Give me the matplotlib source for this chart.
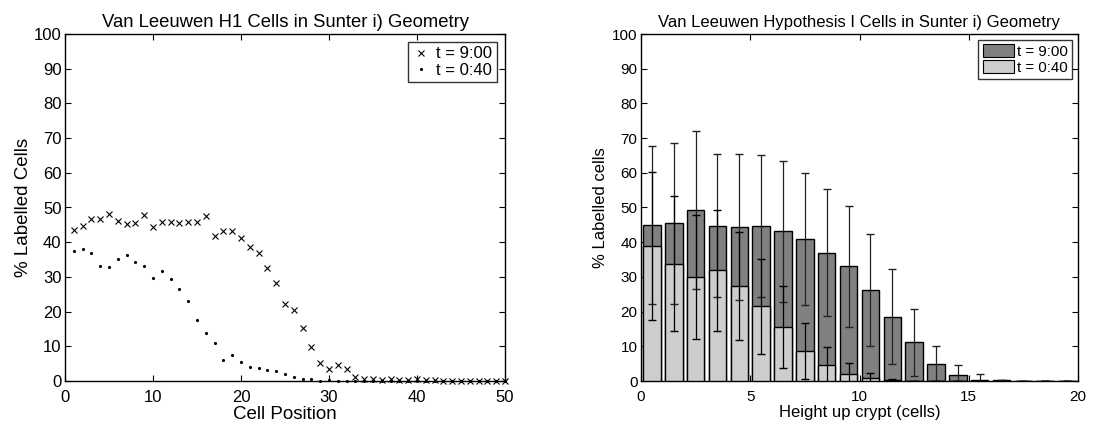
import numpy as np
import matplotlib
matplotlib.use("Agg")
import matplotlib.pyplot as plt
from matplotlib.patches import Patch
from matplotlib.lines import Line2D

plt.rcParams['font.family'] = ['Liberation Sans', 'DejaVu Sans']

# --- Left panel: percentage of labelled cells at each cell position ---
cell_position = list(range(1, 51))
labelled_t900 = [43.5, 44.8, 46.7, 46.7, 48.2, 46.1, 45.2, 45.5, 47.8, 44.3,
                 45.7, 45.9, 45.5, 45.7, 45.8, 47.6, 41.9, 43.1, 43.1, 41.1,
                 38.7, 36.8, 32.6, 28.2, 22.2, 20.5, 15.3, 9.7, 5.3, 3.4,
                 4.6, 3.4, 1.1, 0.6, 0.6, 0.4, 0.6, 0.2, 0.4, 0.5,
                 0.2, 0.2, 0.1, 0.1, 0.1, 0.1, 0.1, 0.0, 0.0, 0.0]
labelled_t040 = [37.5, 38.0, 36.8, 33.1, 32.9, 35.1, 36.3, 34.4, 33.1, 29.7,
                 31.8, 29.4, 26.6, 23.0, 17.6, 13.7, 11.0, 6.1, 7.5, 5.5,
                 4.0, 3.8, 3.3, 2.9, 1.9, 1.1, 0.5, 0.5, 0.0, 0.4,
                 0.0, 0.1, 0.0, 0.0, 0.0, 0.0, 0.0, 0.0, 0.0, 0.0,
                 0.0, 0.0, 0.0, 0.0, 0.0, 0.0, 0.0, 0.0, 0.0, 0.0]

# --- Right panel: mean and std of labelled cells by height up the crypt ---
crypt_height = [h + 0.5 for h in range(20)]
mean_t900 = [45.0, 45.4, 49.3, 44.7, 44.4, 44.6, 43.1, 40.9, 37.0, 33.1,
             26.3, 18.5, 11.1, 4.8, 1.6, 0.4, 0.15, 0.05, 0.02, 0.0]
std_t900 = [22.7, 23.3, 22.7, 20.6, 21.0, 20.4, 20.2, 19.1, 18.4, 17.4,
            16.2, 13.7, 9.7, 5.3, 3.1, 1.5, 0.0, 0.0, 0.0, 0.0]
mean_t040 = [39.0, 33.8, 29.9, 31.9, 27.4, 21.5, 15.5, 8.7, 4.5, 1.9,
             0.8, 0.2, 0.0, 0.0, 0.0, 0.0, 0.0, 0.0, 0.0, 0.0]
std_t040 = [21.3, 19.5, 17.8, 17.4, 15.5, 13.6, 11.8, 8.0, 5.3, 3.3,
            1.6, 0.4, 0.0, 0.0, 0.0, 0.0, 0.0, 0.0, 0.0, 0.0]

legend_labels = ['t = 9:00', 't = 0:40']

fig = plt.figure(figsize=(10.93, 4.23), dpi=100)
ax1 = fig.add_axes([65 / 1093, 1 - 381 / 423, 440 / 1093, 347 / 423])
ax2 = fig.add_axes([641 / 1093, 1 - 381 / 423, 437 / 1093, 347 / 423])


def matlab_axes(ax, fs):
    ax.tick_params(direction='in', top=True, right=True, length=4,
                   width=0.8, labelsize=fs)
    ax.tick_params(axis='x', pad=6.5)
    ax.tick_params(axis='y', pad=2.5)
    for s in ax.spines.values():
        s.set_linewidth(1.0)


# Left panel
ax1.plot(cell_position, labelled_t900, linestyle='none', marker='x',
         color='black', markersize=4.5, markeredgewidth=0.8, clip_on=False)
ax1.plot(cell_position, labelled_t040, linestyle='none', marker='.',
         color='black', markersize=2.5, clip_on=False)
ax1.set_xlim(0, 50)
ax1.set_ylim(0, 100)
ax1.set_xticks(range(0, 51, 10))
ax1.set_yticks(range(0, 101, 10))
matlab_axes(ax1, 12)
ax1.set_title('Van Leeuwen H1 Cells in Sunter i) Geometry', fontsize=13.3,
              pad=5)
ax1.set_xlabel('Cell Position', fontsize=13.5, labelpad=1.0)
ax1.set_ylabel('% Labelled Cells', fontsize=13.5, labelpad=1.0)
h1 = [Line2D([], [], linestyle='none', marker='x', color='black',
             markersize=4, markeredgewidth=0.8),
      Line2D([], [], linestyle='none', marker='.', color='black',
             markersize=2.5)]
leg1 = ax1.legend(h1, legend_labels, loc='upper right', fontsize=12,
                  frameon=True, fancybox=False, edgecolor='black',
                  borderaxespad=0.5, handlelength=1.0, handletextpad=0.45,
                  borderpad=0.25, labelspacing=0.1)
leg1.get_frame().set_linewidth(1.0)

# Right panel
dark = '#808080'
light = '#cdcdcd'
ax2.bar(crypt_height, mean_t900, width=0.8, color=dark, edgecolor='black',
        linewidth=1.0, zorder=2)
ax2.bar(crypt_height, mean_t040, width=0.8, color=light, edgecolor='black',
        linewidth=1.0, zorder=3)
ax2.errorbar(crypt_height, mean_t900, yerr=std_t900, fmt='none',
             ecolor='#222222', elinewidth=0.9, capsize=3, capthick=1.0,
             zorder=4)
ax2.errorbar(crypt_height, mean_t040, yerr=std_t040, fmt='none',
             ecolor='black', elinewidth=0.9, capsize=3, capthick=1.0,
             zorder=5)
ax2.set_xlim(0, 20)
ax2.set_ylim(0, 100)
ax2.set_xticks(range(0, 21, 5))
ax2.set_yticks(range(0, 101, 10))
matlab_axes(ax2, 11)
ax2.set_title('Van Leeuwen Hypothesis I Cells in Sunter i) Geometry',
              fontsize=12, pad=5)
ax2.set_xlabel('Height up crypt (cells)', fontsize=12, labelpad=1.0)
ax2.set_ylabel('% Labelled cells', fontsize=12, labelpad=3)
h2 = [Patch(facecolor=dark, edgecolor='black', linewidth=0.8),
      Patch(facecolor=light, edgecolor='black', linewidth=0.8)]
leg2 = ax2.legend(h2, legend_labels, loc='upper right', fontsize=10.8,
                  frameon=True, fancybox=False, edgecolor='black',
                  borderaxespad=0.4, handlelength=2.1, handleheight=0.95,
                  handletextpad=0.15, borderpad=0.3, labelspacing=0.05)
leg2.get_frame().set_linewidth(1.0)

fig.savefig('out.png', dpi=100, facecolor='white')
